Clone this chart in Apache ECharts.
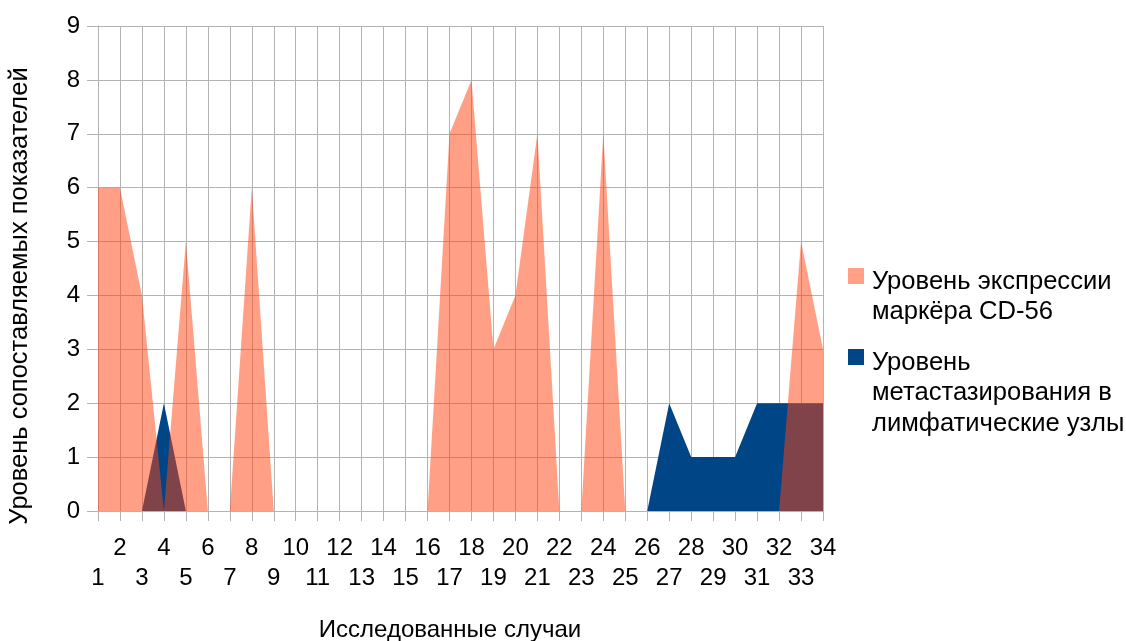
<!DOCTYPE html>
<html>
<head>
<meta charset="utf-8">
<script src="https://cdn.jsdelivr.net/npm/echarts@6/dist/echarts.min.js"></script>
<style>
  html, body { margin: 0; padding: 0; background: #fff; }
  #chart { width: 1126px; height: 641px; }
</style>
</head>
<body>
<div id="chart"></div>
<script>
// Case numbers along the x axis
const cases = ['1','2','3','4','5','6','7','8','9','10','11','12','13','14','15','16','17',
               '18','19','20','21','22','23','24','25','26','27','28','29','30','31','32','33','34'];

// CD-56 marker expression level per case
const cd56Expression = [6, 6, 4, 0, 5, 0, 0, 6, 0, 0, 0, 0, 0, 0, 0, 0, 7,
                        8, 3, 4, 7, 0, 0, 7, 0, 0, 0, 0, 0, 0, 0, 0, 5, 3];

// Lymph node metastasis level per case
const lymphMetastasis = [0, 0, 0, 2, 0, 0, 0, 0, 0, 0, 0, 0, 0, 0, 0, 0, 0,
                         0, 0, 0, 0, 0, 0, 0, 0, 0, 2, 1, 1, 1, 2, 2, 2, 2];

const yTicks = [0, 1, 2, 3, 4, 5, 6, 7, 8, 9];

const seriesNames = [
  'Уровень экспрессии маркёра CD-56',
  'Уровень метастазирования в лимфатические узлы'
];
// Legend entries wrapped onto several lines
const legendLines = {
  [seriesNames[0]]: ['Уровень экспрессии', 'маркёра CD-56'],
  [seriesNames[1]]: ['Уровень', 'метастазирования в', 'лимфатические узлы']
};

const FONT = '"Liberation Sans", Arial, sans-serif';
const GRID = '#b3b3b3';
const AXIS_LINE_H = 30;
const LEGEND_LINE_H = 30.5;

const chart = echarts.init(document.getElementById('chart'), null, { renderer: 'canvas' });

// One legend block per series; top padding pushes the first text line
// down so that it sits beside the square marker.
function legendFor(name, color, top, topPad) {
  return {
    show: true,
    orient: 'vertical',
    left: 848,
    top: top,
    padding: 0,
    icon: 'rect',
    itemWidth: 16,
    itemHeight: 16,
    selectedMode: false,
    formatter: n => legendLines[n].map(s => '{t|' + s + '}').join('\n'),
    textStyle: {
      padding: [topPad, 0, 0, 3],
      rich: {
        t: { fontFamily: FONT, fontSize: 25.6, color: '#000', lineHeight: LEGEND_LINE_H }
      }
    },
    data: [{ name: name, itemStyle: { color: color } }]
  };
}

chart.setOption({
  animation: false,
  backgroundColor: '#fff',
  grid: { left: 98, right: 303, top: 26, bottom: 130, containLabel: false },
  legend: [
    legendFor(seriesNames[0], '#ffa087', 268, 41.5),
    legendFor(seriesNames[1], '#004586', 349, 72)
  ],
  xAxis: {
    type: 'category',
    data: cases,
    boundaryGap: false,
    axisLine: { show: true, lineStyle: { color: GRID, width: 1 } },
    axisTick: { show: true, length: 10, interval: 0, lineStyle: { color: GRID } },
    splitLine: { show: true, interval: 0, lineStyle: { color: GRID, width: 1 } },
    axisLabel: {
      interval: 0,
      hideOverlap: false,
      margin: 22,
      fontFamily: FONT,
      fontSize: 24,
      color: '#000',
      lineHeight: AXIS_LINE_H,
      // odd case numbers go on the lower row, even ones on the upper row
      formatter: (v, i) => (i % 2 === 0 ? '\n' + v : v)
    }
  },
  yAxis: {
    type: 'value',
    min: yTicks[0],
    max: yTicks[yTicks.length - 1],
    interval: 1,
    axisLine: { show: true, lineStyle: { color: GRID, width: 1 } },
    axisTick: { show: true, length: 11, lineStyle: { color: GRID } },
    splitLine: { show: true, lineStyle: { color: GRID, width: 1 } },
    axisLabel: { margin: 18, fontFamily: FONT, fontSize: 24, color: '#000' }
  },
  graphic: [
    {
      type: 'text',
      x: 20, y: 296,
      rotation: Math.PI / 2,
      style: {
        text: 'Уровень сопоставляемых показателей',
        fontFamily: FONT, fontSize: 25.5, fill: '#000',
        align: 'center', verticalAlign: 'middle'
      }
    },
    {
      type: 'text',
      x: 450, y: 630,
      style: {
        text: 'Исследованные случаи',
        fontFamily: FONT, fontSize: 24, fill: '#000',
        align: 'center', verticalAlign: 'middle'
      }
    }
  ],
  series: [
    {
      name: seriesNames[1],
      type: 'line',
      data: lymphMetastasis,
      symbol: 'none',
      lineStyle: { width: 0, color: '#004586' },
      itemStyle: { color: '#004586' },
      areaStyle: { color: '#004586', opacity: 1 },
      z: 2
    },
    {
      name: seriesNames[0],
      type: 'line',
      data: cd56Expression,
      symbol: 'none',
      lineStyle: { width: 0, color: '#ff420e' },
      itemStyle: { color: '#ff420e' },
      areaStyle: { color: '#ff420e', opacity: 0.5 },
      z: 3
    }
  ]
});
</script>
</body>
</html>
